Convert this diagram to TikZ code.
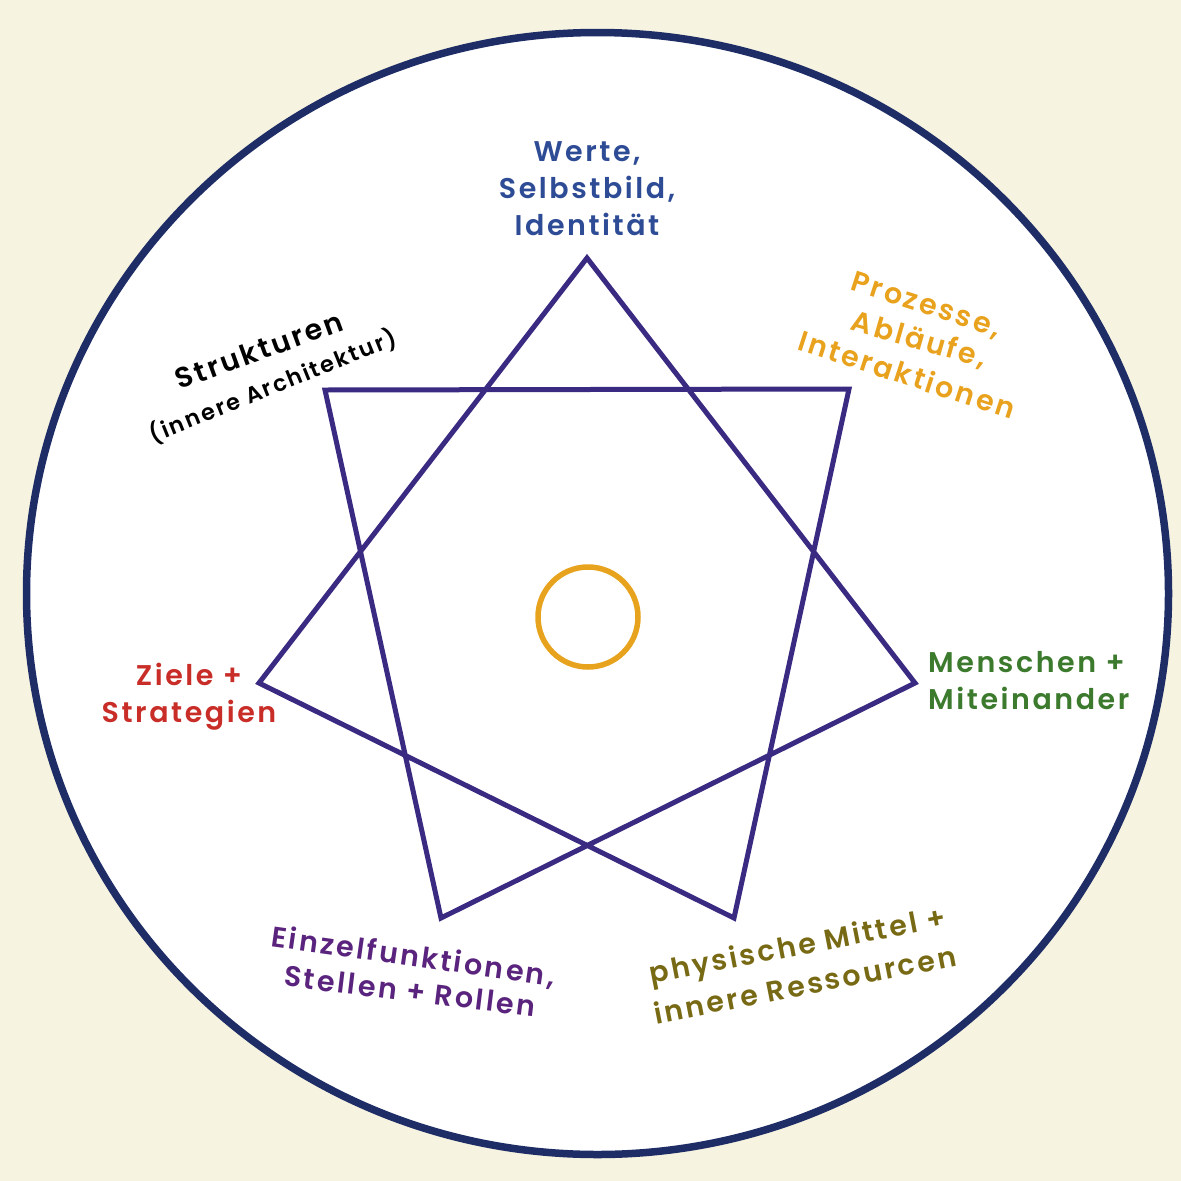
\documentclass[tikz,border=0pt]{standalone}
\usepackage{fontspec}
\usepackage{xcolor}
\newfontfamily\labelfont{Poppins SemiBold}[LetterSpace=9]

\definecolor{paper}{RGB}{246,243,225}
\definecolor{rim}{RGB}{31,45,102}
\definecolor{starline}{RGB}{58,42,130}
\definecolor{corering}{RGB}{232,163,30}
\definecolor{wertblue}{RGB}{46,76,150}
\definecolor{prozorange}{RGB}{233,162,29}
\definecolor{zielred}{RGB}{200,45,40}
\definecolor{menschgreen}{RGB}{60,122,45}
\definecolor{stellpurple}{RGB}{90,35,125}
\definecolor{mitolive}{RGB}{120,105,20}

\begin{document}
\begin{tikzpicture}[x=1pt,y=-1pt,
  lbl/.style={font=\labelfont\fontsize{28.5}{37}\selectfont, align=center, inner sep=0pt},
  small/.style={font=\labelfont\fontsize{22.5}{28}\selectfont, inner sep=0pt}]
  % Background and the white disc
  \fill[paper] (0,0) rectangle (1181,1181);
  \useasboundingbox (0,0) rectangle (1181,1181);
  \filldraw[fill=white, draw=rim, line width=7.5pt] (597.5,593.5) ellipse [x radius=571, y radius=561];

  % Star corners
  \coordinate (v0) at (587,258);
  \coordinate (v1) at (849,389);
  \coordinate (v2) at (915,683);
  \coordinate (v3) at (734,918);
  \coordinate (v4) at (441,918);
  \coordinate (v5) at (259,683);
  \coordinate (v6) at (325,390);
  \draw[starline, line width=5pt, line join=miter]
    (v0) -- (v2) -- (v4) -- (v6) -- (v1) -- (v3) -- (v5) -- cycle;

  % Ring in the middle
  \draw[corering, line width=5.5pt] (588,617) circle (50);

  % Labels
  \node[lbl, wertblue] (werte) at (587,189) {Werte,\\Selbstbild,\\Identität};
  \node[lbl, prozorange, rotate=-18] (prozesse) at (926,306) {Prozesse,};
  \node[lbl, prozorange, rotate=-16] (ablaeufe) at (919,340) {Abläufe,};
  \node[lbl, prozorange, rotate=-18] (interaktionen) at (907,374) {Interaktionen};
  \node[lbl, black, rotate=20] (strukturen) at (259,350) {Strukturen};
  \node[small, black, rotate=22] (architektur) at (273,386) {(innere Architektur)};
  \node[lbl, zielred] (ziele) at (189,697) {Ziele +\\Strategien};
  \node[lbl, menschgreen, anchor=west, align=left] (menschen) at (928,681) {Menschen +\\Miteinander};
  \node[lbl, stellpurple, rotate=-8] (einzel) at (413,957) {Einzelfunktionen,};
  \node[lbl, stellpurple, rotate=-7] (stellen) at (410,991) {Stellen + Rollen};
  \node[lbl, mitolive, rotate=11] (physisch) at (798,948) {physische Mittel +};
  \node[lbl, mitolive, rotate=11] (ressourcen) at (805,984) {innere Ressourcen};
\end{tikzpicture}
\end{document}
